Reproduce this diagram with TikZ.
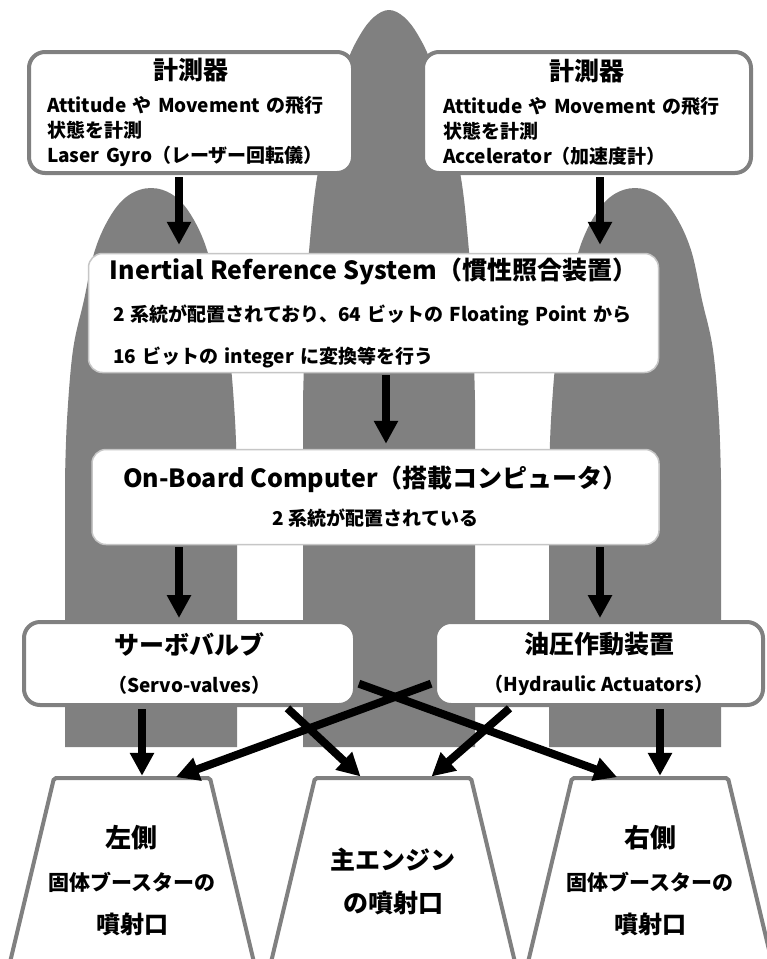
\documentclass[tikz,border=0pt]{standalone}
\usepackage{fontspec}
\setmainfont{Noto Sans CJK JP}
\usetikzlibrary{arrows.meta}
\setlength{\parindent}{0pt}
\newcommand{\bigtxt}{\fontsize{25}{30}\selectfont}

\begin{document}
\begin{tikzpicture}[x=1pt, y=-1pt]
  \tikzstyle{rocket}=[fill=gray]
  \tikzstyle{box}=[draw=gray, line width=4pt, fill=white, rounded corners=16pt, inner sep=0pt,
                   font=\bfseries\fontsize{19}{25}\selectfont]
  \tikzstyle{panel}=[draw=gray!45, line width=1.5pt, fill=white, rounded corners=14pt, inner sep=0pt,
                     font=\bfseries\fontsize{19}{42}\selectfont]
  \tikzstyle{nozzle}=[draw=gray, line width=4pt, fill=white, rounded corners=2pt]
  \tikzstyle{nztext}=[minimum height=206pt, inner sep=0pt, align=center,
                      font=\bfseries\fontsize{24}{43}\selectfont]
  \tikzstyle{arr}=[line width=8pt, -{Triangle[length=23pt,width=23pt]}, shorten <=2pt, shorten >=2pt]

  \useasboundingbox[fill=white] (0,0) rectangle (767,959);

  % tank and the two boosters behind everything
  \fill[rocket] (303,747) -- plot[smooth, tension=0.6] coordinates {(303,400) (306,300) (310,240)
      (317,178) (330,120) (346,65) (360,35) (374,17) (389,10) (404,17) (418,35) (432,65) (448,120)
      (461,178) (468,240) (472,300) (475,400)} -- (475,747) -- cycle;
  \foreach \c in {151,635}
    \fill[rocket] (\c-86,747) -- plot[smooth, tension=0.6] coordinates {(\c-86,480) (\c-84,420)
        (\c-78,350) (\c-67,300) (\c-56,250) (\c-40,215) (\c-22,195) (\c,188) (\c+22,195)
        (\c+40,215) (\c+56,250) (\c+67,300) (\c+78,350) (\c+84,420) (\c+86,480)} -- (\c+86,747) -- cycle;

  % sensors
  \node[box, text width=288pt, minimum width=324pt, minimum height=121pt, align=left] (tl) at (191,112.5)
    {\centerline{\bigtxt 計測器}\vskip8pt \mbox{Attitude や Movement の飛行}\\状態を計測\\\mbox{Laser Gyro（レーザー回転儀）}};
  \node[box, text width=288pt, minimum width=328pt, minimum height=121pt, align=left] (tr) at (587,112.5)
    {\centerline{\bigtxt 計測器}\vskip8pt \mbox{Attitude や Movement の飛行}\\状態を計測\\\mbox{Accelerator（加速度計）}};

  \node[panel, text width=521pt, minimum width=570pt, minimum height=119pt, align=left] (irs) at (373.5,313)
    {\centerline{\bigtxt Inertial Reference System（慣性照合装置）}
     \mbox{2 系統が配置されており、64 ビットの Floating Point から}\\
     \mbox{16 ビットの integer に変換等を行う}};
  \node[panel, minimum width=567pt, minimum height=95pt, align=center,
        font=\bfseries\fontsize{19}{38}\selectfont] (obc) at (375.5,497)
    {{\bigtxt On-Board Computer（搭載コンピュータ）}\\2 系統が配置されている};

  \node[box, minimum width=331pt, minimum height=83pt, align=center,
        font=\bfseries\fontsize{19}{38}\selectfont] (servo) at (189.5,663.5)
    {{\bigtxt サーボバルブ}\\（Servo-valves）};
  \node[box, minimum width=328pt, minimum height=83pt, align=center,
        font=\bfseries\fontsize{19}{38}\selectfont] (hyd) at (599,663.5)
    {{\bigtxt 油圧作動装置}\\（Hydraulic Actuators）};

  % nozzles, open at the bottom edge
  \foreach \c in {132,393,650}
    \draw[nozzle] (\c-131,1000) -- (\c-78,778) -- (\c+78,778) -- (\c+131,1000);
  \node[nztext] (lnz) at (132,881)
    {{\fontsize{26}{43}\selectfont 左側}\\{\fontsize{21}{43}\selectfont 固体ブースターの}\\噴射口};
  \node[nztext] (mnz) at (393,881) {{\fontsize{25}{43}\selectfont 主エンジン}\\{\fontsize{25}{43}\selectfont の噴射口}};
  \node[nztext] (rnz) at (650,881)
    {{\fontsize{26}{43}\selectfont 右側}\\{\fontsize{21}{43}\selectfont 固体ブースターの}\\噴射口};

  % columns the arrows run in
  \coordinate (cl) at (179,0);
  \coordinate (cm) at (386,0);
  \coordinate (cr) at (600,0);
  \coordinate (n1) at (142,0);
  \coordinate (n2) at (174,0);
  \coordinate (n3) at (286,0);
  \coordinate (n4) at (362,0);
  \coordinate (n5) at (430,0);
  \coordinate (n6) at (511,0);
  \coordinate (n7) at (619,0);
  \coordinate (n8) at (660,0);

  \draw[arr, shorten >=8pt] (tl.south -| cl) -- (irs.north -| cl);
  \draw[arr, shorten >=8pt] (tr.south -| cr) -- (irs.north -| cr);
  \draw[arr, shorten >=5pt] (irs.south -| cm) -- (obc.north -| cm);
  \draw[arr] (obc.south -| cl) -- (servo.north -| cl);
  \draw[arr] (obc.south -| cr) -- (hyd.north -| cr);

  \draw[arr] (servo.south -| n1) -- (lnz.north -| n1);
  \draw[arr] (servo.south -| n3) -- (mnz.north -| n4);
  \draw[arr] ([yshift=24pt]servo.south east) -- (rnz.north -| n7);
  \draw[arr] ([yshift=24pt]hyd.south west) -- (lnz.north -| n2);
  \draw[arr] (hyd.south -| n6) -- (mnz.north -| n5);
  \draw[arr] (hyd.south -| n8) -- (rnz.north -| n8);
\end{tikzpicture}
\end{document}
